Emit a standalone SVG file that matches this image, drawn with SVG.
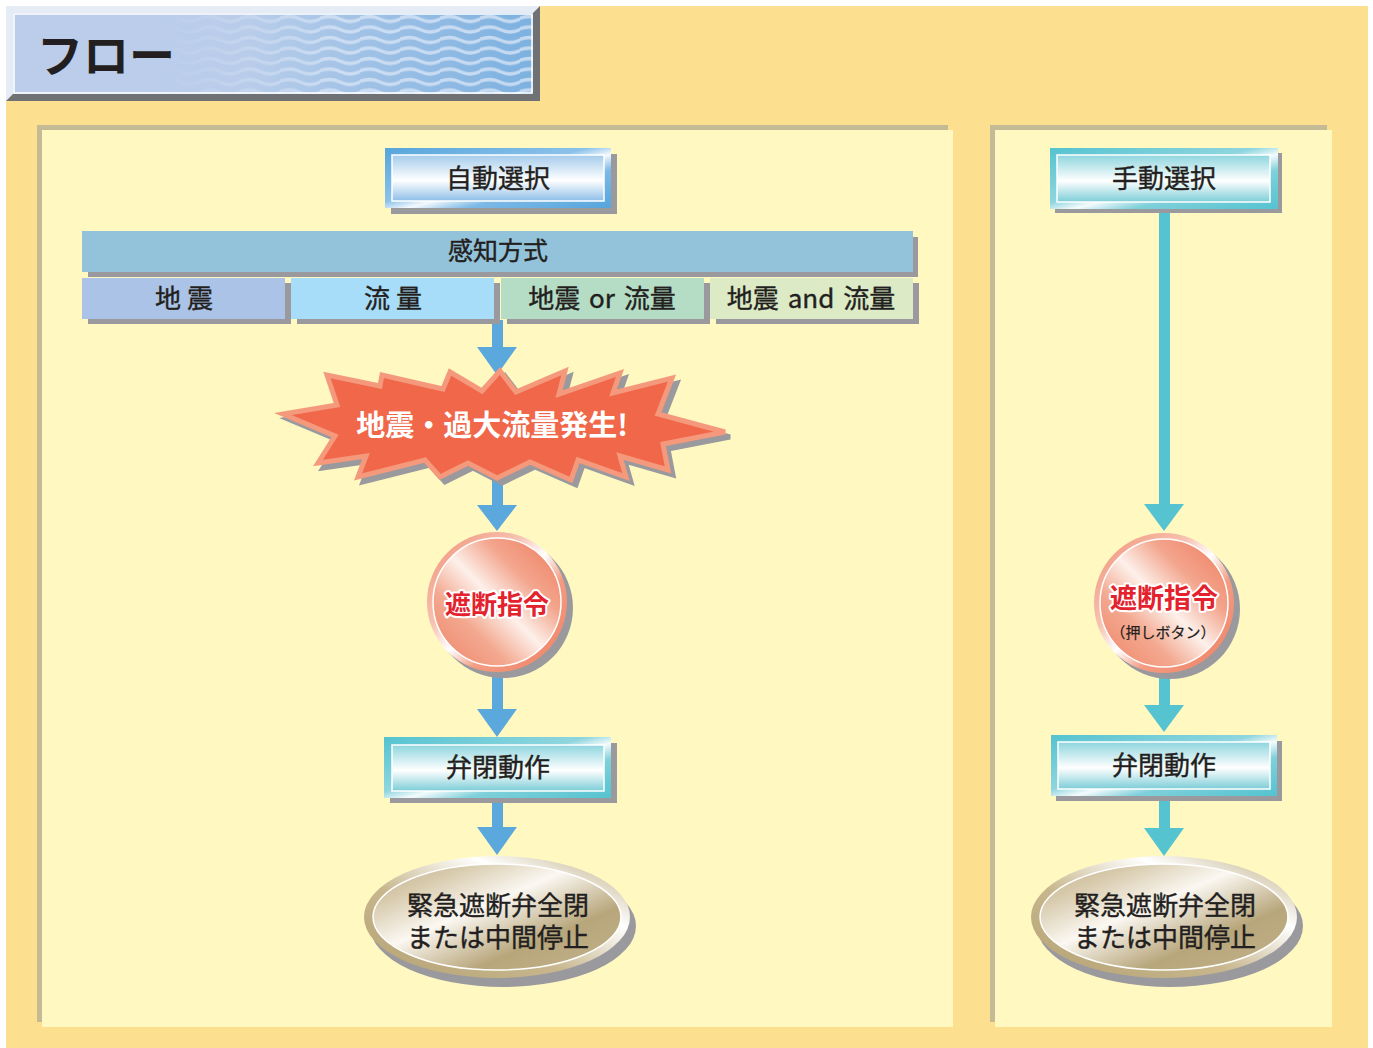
<svg xmlns="http://www.w3.org/2000/svg" width="1373" height="1048" viewBox="0 0 1373 1048">
<defs>
<style>
.lbl{font-family:"Noto Sans CJK JP","Noto Sans",sans-serif;fill:#231f20;stroke:#231f20;stroke-width:0.4;text-anchor:middle}
.shadow{fill:#9a999e}
.red{font-family:"Noto Sans CJK JP",sans-serif;font-weight:700;fill:#e3222e;stroke:#fff;stroke-width:4;paint-order:stroke;stroke-linejoin:round;text-anchor:middle}
.blue{fill:#5aa8dc}
.teal{fill:#56c4d0}
</style>
<linearGradient id="hdrBg" x1="0" y1="0" x2="1" y2="0">
<stop offset="0" stop-color="#bccdea"/><stop offset="0.45" stop-color="#b9cdea"/><stop offset="1" stop-color="#7cb1e0"/>
</linearGradient>
<linearGradient id="fadeG" x1="0" y1="0" x2="1" y2="0">
<stop offset="0" stop-color="#000"/><stop offset="0.28" stop-color="#000"/><stop offset="0.62" stop-color="#fff"/><stop offset="1" stop-color="#fff"/>
</linearGradient>
<mask id="fadeM" maskUnits="userSpaceOnUse" x="13" y="13" width="520" height="81">
<rect x="13" y="13" width="520" height="81" fill="url(#fadeG)"/>
</mask>
<pattern id="waves" patternUnits="userSpaceOnUse" x="0" y="14" width="40" height="10.5">
<path d="M-2,5 Q10,0 20,5 T40,5 T60,5" fill="none" stroke="#d6e4f5" stroke-width="3.4" stroke-opacity="0.8"/>
</pattern>
<linearGradient id="blueBorder" x1="0" y1="0" x2="1" y2="1">
<stop offset="0" stop-color="#55a5dc"/><stop offset="0.45" stop-color="#8cc2ea"/><stop offset="0.55" stop-color="#f4f9fd"/><stop offset="0.68" stop-color="#7db9e6"/><stop offset="1" stop-color="#55a5dc"/>
</linearGradient>
<linearGradient id="blueFill" x1="0" y1="0" x2="0" y2="1">
<stop offset="0" stop-color="#a4cbeb"/><stop offset="0.55" stop-color="#ffffff"/><stop offset="1" stop-color="#8ebee8"/>
</linearGradient>
<linearGradient id="tealBorder" x1="0" y1="0" x2="1" y2="1">
<stop offset="0" stop-color="#54c3d0"/><stop offset="0.45" stop-color="#8fd6df"/><stop offset="0.55" stop-color="#f4fbfc"/><stop offset="0.68" stop-color="#7fd0da"/><stop offset="1" stop-color="#54c3d0"/>
</linearGradient>
<linearGradient id="tealFill" x1="0" y1="0" x2="0" y2="1">
<stop offset="0" stop-color="#8ed5de"/><stop offset="0.55" stop-color="#ffffff"/><stop offset="1" stop-color="#7ccdd7"/>
</linearGradient>
<linearGradient id="circG" x1="1" y1="0" x2="0" y2="1">
<stop offset="0" stop-color="#ee7a5c"/><stop offset="0.3" stop-color="#f3a58d"/><stop offset="0.5" stop-color="#fdf0ea"/><stop offset="0.7" stop-color="#f3a88f"/><stop offset="1" stop-color="#ee8266"/>
</linearGradient>
<linearGradient id="circRing" x1="0" y1="0" x2="1" y2="1">
<stop offset="0" stop-color="#f09075"/><stop offset="0.35" stop-color="#f7c2b1"/><stop offset="0.5" stop-color="#ffffff"/><stop offset="0.65" stop-color="#f39c82"/><stop offset="1" stop-color="#ee7f62"/>
</linearGradient>
<linearGradient id="ellG" x1="0" y1="0" x2="1" y2="1">
<stop offset="0" stop-color="#bfae86"/><stop offset="0.2" stop-color="#d8cbae"/><stop offset="0.42" stop-color="#fbf8f2"/><stop offset="0.7" stop-color="#b8a67b"/><stop offset="1" stop-color="#c2b38c"/>
</linearGradient>
<linearGradient id="ellRing" x1="0" y1="1" x2="1" y2="0">
<stop offset="0" stop-color="#b3a172"/><stop offset="0.4" stop-color="#c8b78e"/><stop offset="0.7" stop-color="#ffffff"/><stop offset="1" stop-color="#b9a87c"/>
</linearGradient>
</defs>

<!-- background -->
<rect x="0" y="0" width="1373" height="1048" fill="#ffffff"/>
<rect x="6" y="6" width="1362" height="1042" fill="#fde08f"/>

<!-- header -->
<g id="header">
<polygon points="6,6 540,6 533,13 13,13 13,94 6,101" fill="#e5ecf6"/>
<polygon points="540,6 540,101 6,101 13,94 533,94 533,13" fill="#6f7175"/>
<rect x="13" y="13" width="520" height="81" fill="url(#hdrBg)"/>
<rect x="13" y="13" width="520" height="81" fill="url(#waves)" mask="url(#fadeM)"/>
<rect x="14" y="14" width="518" height="79" fill="none" stroke="#ffffff" stroke-width="1.5"/>
<text x="37" y="72" font-family="'Noto Sans CJK JP',sans-serif" font-weight="700" font-size="46" fill="#231f20">フロー</text>
</g>

<!-- panels -->
<g id="panel-left">
<rect x="37" y="125" width="911" height="897" fill="#c4bb96"/>
<rect x="42" y="130" width="911" height="897" fill="#fff9c1"/>
</g>
<g id="panel-right">
<rect x="990" y="125" width="337" height="897" fill="#c4bb96"/>
<rect x="995" y="130" width="337" height="897" fill="#fff9c1"/>
</g>

<!-- connectors -->
<g id="connectors">
<rect class="blue" x="492" y="320" width="11" height="29"/>
<polygon class="blue" points="477,347 517,347 497,375"/>
<rect class="blue" x="492" y="470" width="11" height="37"/>
<polygon class="blue" points="477,505 517,505 497,531"/>
<rect class="blue" x="492" y="668" width="11" height="43"/>
<polygon class="blue" points="477,709 517,709 497,737"/>
<rect class="blue" x="492" y="797" width="11" height="32"/>
<polygon class="blue" points="477,827 517,827 497,855"/>
<rect class="teal" x="1159" y="208" width="11" height="298"/>
<polygon class="teal" points="1144,504 1184,504 1164,531"/>
<rect class="teal" x="1159" y="670" width="11" height="37"/>
<polygon class="teal" points="1144,705 1184,705 1164,732"/>
<rect class="teal" x="1159" y="795" width="11" height="35"/>
<polygon class="teal" points="1144,828 1184,828 1164,856"/>
</g>

<!-- auto select -->
<g id="node-auto">
<rect class="shadow" x="391" y="154" width="226" height="60"/>
<rect x="385" y="148" width="226" height="60" fill="url(#blueBorder)"/>
<rect x="392" y="155" width="212" height="46" fill="url(#blueFill)" stroke="#ffffff" stroke-width="1.5"/>
<text class="lbl" x="498" y="188" font-size="26">自動選択</text>
</g>

<!-- detection method -->
<g id="node-method">
<rect x="88" y="237" width="830" height="40" fill="#9a999e"/>
<rect x="82" y="231" width="831" height="41" fill="#93c3da"/>
<text class="lbl" x="498" y="260" font-size="25">感知方式</text>
</g>
<g id="node-quake">
<rect class="shadow" x="88" y="283" width="203" height="41"/>
<rect x="82" y="278" width="203" height="41" fill="#abc3e6"/>
<text class="lbl" x="184" y="308" font-size="26">地 震</text>
</g>
<g id="node-flow">
<rect class="shadow" x="297" y="283" width="203" height="41"/>
<rect x="291" y="278" width="203" height="41" fill="#a8ddf9"/>
<text class="lbl" x="393" y="308" font-size="26">流 量</text>
</g>
<g id="node-or">
<rect class="shadow" x="507" y="283" width="203" height="41"/>
<rect x="501" y="278" width="203" height="41" fill="#b5ddc5"/>
<text class="lbl" x="602" y="308" font-size="26" word-spacing="3">地震 or 流量</text>
</g>
<g id="node-and">
<rect class="shadow" x="716" y="283" width="203" height="41"/>
<rect x="710" y="278" width="203" height="41" fill="#dcebc6"/>
<text class="lbl" x="811" y="308" font-size="26" word-spacing="3">地震 and 流量</text>
</g>

<!-- starburst -->
<g id="node-burst">
<polygon transform="translate(5,5)" fill="#9a999e" stroke="#9a999e" stroke-width="5" stroke-linejoin="miter" points="500,371 516,392 565,371 559,394 620,373 613,393 672,378 658,414 725,432 663,444 668,470 620,456 626,477 578,460 571,480 530,462 497,478 468,463 440,477 425,460 358,477 366,456 318,463 335,436 283,414 337,405 327,375 380,386 382,375 443,389 450,372 482,391"/>
<polygon fill="#f0674a" stroke="#f5997d" stroke-width="5" stroke-linejoin="miter" points="500,371 516,392 565,371 559,394 620,373 613,393 672,378 658,414 725,432 663,444 668,470 620,456 626,477 578,460 571,480 530,462 497,478 468,463 440,477 425,460 358,477 366,456 318,463 335,436 283,414 337,405 327,375 380,386 382,375 443,389 450,372 482,391"/>
<text x="492" y="436" font-family="'Noto Sans CJK JP',sans-serif" font-weight="700" font-size="29" fill="#ffffff" text-anchor="middle">地震・過大流量発生!</text>
</g>

<!-- cutoff command left -->
<g id="node-cmd-auto">
<circle class="shadow" cx="503" cy="608" r="70"/>
<circle cx="497" cy="602" r="70" fill="url(#circRing)"/>
<circle cx="497" cy="602" r="64" fill="url(#circG)" stroke="#ffffff" stroke-width="1.5"/>
<text class="red" x="497" y="614" font-size="26">遮断指令</text>
</g>

<!-- valve action left -->
<g id="node-valve-auto">
<rect class="shadow" x="390" y="743" width="227" height="60"/>
<rect x="384" y="737" width="227" height="61" fill="url(#tealBorder)"/>
<rect x="392" y="745" width="212" height="46" fill="url(#tealFill)" stroke="#ffffff" stroke-width="1.5"/>
<text class="lbl" x="498" y="777" font-size="26">弁閉動作</text>
</g>

<!-- result left -->
<g id="node-result-auto">
<ellipse class="shadow" cx="503" cy="926" rx="133" ry="61"/>
<ellipse cx="497" cy="917" rx="133" ry="61" fill="url(#ellRing)"/>
<ellipse cx="497" cy="917" rx="124" ry="53" fill="url(#ellG)" stroke="#ffffff" stroke-width="1.5"/>
<text class="lbl" x="498" y="915" font-size="26">緊急遮断弁全閉</text>
<text class="lbl" x="498" y="947" font-size="26">または中間停止</text>
</g>

<!-- manual select -->
<g id="node-manual">
<rect class="shadow" x="1055" y="153" width="227" height="60"/>
<rect x="1050" y="148" width="228" height="61" fill="url(#tealBorder)"/>
<rect x="1057" y="155" width="213" height="47" fill="url(#tealFill)" stroke="#ffffff" stroke-width="1.5"/>
<text class="lbl" x="1164" y="188" font-size="26">手動選択</text>
</g>

<!-- cutoff command right -->
<g id="node-cmd-manual">
<circle class="shadow" cx="1170" cy="609" r="70"/>
<circle cx="1164" cy="603" r="70" fill="url(#circRing)"/>
<circle cx="1164" cy="603" r="64" fill="url(#circG)" stroke="#ffffff" stroke-width="1.5"/>
<text class="red" x="1164" y="608" font-size="27">遮断指令</text>
<text class="lbl" x="1163" y="638" font-size="15" style="stroke-width:0.2">（押しボタン）</text>
</g>

<!-- valve action right -->
<g id="node-valve-manual">
<rect class="shadow" x="1056" y="741" width="226" height="60"/>
<rect x="1051" y="735" width="226" height="61" fill="url(#tealBorder)"/>
<rect x="1058" y="742" width="212" height="47" fill="url(#tealFill)" stroke="#ffffff" stroke-width="1.5"/>
<text class="lbl" x="1164" y="775" font-size="26">弁閉動作</text>
</g>

<!-- result right -->
<g id="node-result-manual">
<ellipse class="shadow" cx="1170" cy="926" rx="133" ry="61"/>
<ellipse cx="1164" cy="917" rx="133" ry="61" fill="url(#ellRing)"/>
<ellipse cx="1164" cy="917" rx="124" ry="53" fill="url(#ellG)" stroke="#ffffff" stroke-width="1.5"/>
<text class="lbl" x="1165" y="915" font-size="26">緊急遮断弁全閉</text>
<text class="lbl" x="1165" y="947" font-size="26">または中間停止</text>
</g>
</svg>
